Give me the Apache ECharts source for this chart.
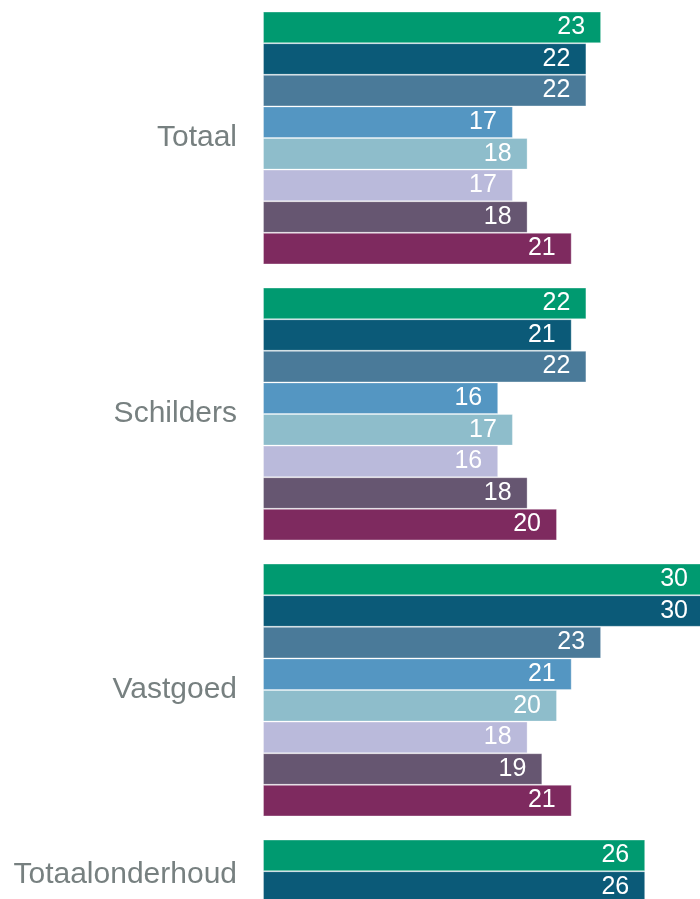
<!DOCTYPE html>
<html>
<head>
<meta charset="utf-8">
<script src="https://cdn.jsdelivr.net/npm/echarts@6/dist/echarts.min.js"></script>
<style>
  html, body { margin: 0; padding: 0; overflow: hidden; background: #fff; }
  #chart { width: 710px; height: 1110px; }
</style>
</head>
<body>
<div id="chart"></div>
<script>
// categories, top to bottom
const categories = ['Totaal', 'Schilders', 'Vastgoed', 'Totaalonderhoud']

// one array per series (bar order inside each group, top to bottom)
const serie1 = [23, 22, 30, 26]
const serie2 = [22, 21, 30, 26]
const serie3 = [22, 22, 23, 23]
const serie4 = [17, 16, 21, 19]
const serie5 = [18, 17, 20, 19]
const serie6 = [17, 16, 18, 17]
const serie7 = [18, 18, 19, 18]
const serie8 = [21, 20, 21, 21]

const seriesNames = ['Reeks 1', 'Reeks 2', 'Reeks 3', 'Reeks 4', 'Reeks 5', 'Reeks 6', 'Reeks 7', 'Reeks 8']
const seriesData = [serie1, serie2, serie3, serie4, serie5, serie6, serie7, serie8]
const colors = ['#009a70', '#0b5a78', '#4a7a99', '#5496c2', '#8ebdcb', '#babadb', '#665671', '#7e2a5f']

const chart = echarts.init(document.getElementById('chart'))

chart.setOption({
  animation: false,
  grid: {
    left: 263,
    top: 0,
    width: 441,
    height: 1104,
    containLabel: false
  },
  xAxis: {
    type: 'value',
    min: 0,
    max: 30,
    show: false
  },
  yAxis: {
    type: 'category',
    data: categories,
    inverse: true,
    axisLine: { show: false },
    axisTick: { show: false },
    axisLabel: {
      color: '#778080',
      fontSize: 30,
      fontFamily: 'Liberation Sans, Arial, sans-serif',
      margin: 26,
      // last group is cut off by the page, its label sits by the visible bars
      formatter: (v, i) => i === categories.length - 1 ? '{up|' + v + '}' : v,
      rich: {
        up: {
          color: '#778080',
          fontSize: 30,
          fontFamily: 'Liberation Sans, Arial, sans-serif',
          padding: [0, 0, 182, 0]
        }
      }
    }
  },
  series: seriesData.map((d, i) => ({
    name: seriesNames[i],
    type: 'bar',
    data: d,
    barGap: 0,
    barCategoryGap: '8.4%',
    itemStyle: {
      color: colors[i],
      borderColor: 'rgba(255,255,255,0.3)',
      borderWidth: 1
    },
    label: {
      show: true,
      position: 'insideRight',
      distance: 16,
      color: '#fff',
      fontSize: 25,
      fontFamily: 'Liberation Sans, Arial, sans-serif'
    }
  }))
})
</script>
</body>
</html>
